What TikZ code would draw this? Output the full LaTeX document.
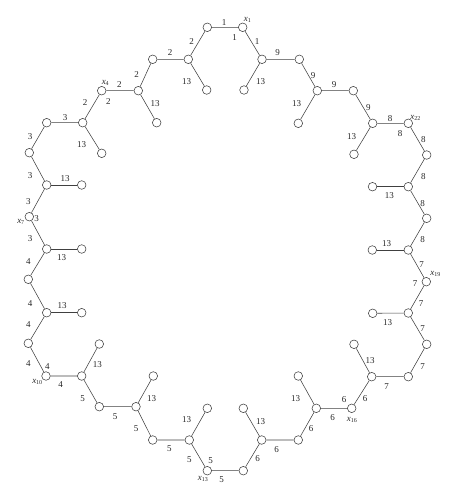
\documentclass[tikz,border=0pt]{standalone}
\usepackage{fontspec}
\setmainfont{Liberation Serif}
\begin{document}
\begin{tikzpicture}[x=1pt,y=-1pt,
  vtx/.style={circle,draw=black!75,fill=white,line width=0.55pt,minimum size=8.6pt,inner sep=0pt},
  edge/.style={draw=black!75,line width=0.55pt},
  lab/.style={font=\fontsize{9}{9}\selectfont,inner sep=0pt,text=black!85},
  xlab/.style={font=\fontsize{9}{9}\selectfont,inner sep=0pt,text=black!85}]
\useasboundingbox (0,0) rectangle (457,500);
% cycle vertices
\node[vtx] (x1) at (242.7,27.3) {};
\node[vtx] (a) at (207.3,27.3) {};
\node[vtx] (b) at (188.3,59.3) {};
\node[vtx] (pb) at (206.7,90) {};
\node[vtx] (c) at (152.7,59.3) {};
\node[vtx] (d) at (138.3,90.7) {};
\node[vtx] (pd) at (156.7,122.7) {};
\node[vtx] (x4) at (101.7,90.7) {};
\node[vtx] (e) at (82.7,122.7) {};
\node[vtx] (pe) at (101.7,153.3) {};
\node[vtx] (f) at (46.7,122.7) {};
\node[vtx] (g) at (29.3,152.7) {};
\node[vtx] (h) at (46.7,185) {};
\node[vtx] (ph) at (81.7,185) {};
\node[vtx] (x7) at (29.3,216.7) {};
\node[vtx] (i) at (46.7,249) {};
\node[vtx] (pi) at (81.7,249) {};
\node[vtx] (j) at (28.3,279.3) {};
\node[vtx] (k) at (46.7,312.7) {};
\node[vtx] (pk) at (81.7,312.7) {};
\node[vtx] (l) at (28.3,343.3) {};
\node[vtx] (x10) at (46,376) {};
\node[vtx] (m) at (81.7,376) {};
\node[vtx] (pm) at (99.3,344) {};
\node[vtx] (n) at (99.3,406.7) {};
\node[vtx] (o) at (136,406.7) {};
\node[vtx] (po) at (153.3,376) {};
\node[vtx] (p) at (152.7,440) {};
\node[vtx] (q) at (189.3,440) {};
\node[vtx] (pq) at (207.3,408.3) {};
\node[vtx] (x13) at (207.3,470.7) {};
\node[vtx] (r) at (243.3,470.7) {};
\node[vtx] (s) at (261.7,440) {};
\node[vtx] (ps) at (243.3,408.3) {};
\node[vtx] (t) at (298.3,440) {};
\node[vtx] (u) at (316.3,408.3) {};
\node[vtx] (pu) at (298.3,376) {};
\node[vtx] (x16) at (351.7,408.3) {};
\node[vtx] (v) at (371.7,376.7) {};
\node[vtx] (pv) at (354,344.3) {};
\node[vtx] (w) at (408.3,376.7) {};
\node[vtx] (y) at (426.7,344.3) {};
\node[vtx] (z) at (408.3,313) {};
\node[vtx] (pz) at (372.7,313.3) {};
\node[vtx] (x19) at (426.3,281.7) {};
\node[vtx] (A) at (408.3,250) {};
\node[vtx] (pA) at (372.3,250) {};
\node[vtx] (B) at (426.7,218.3) {};
\node[vtx] (C) at (408.3,186.7) {};
\node[vtx] (pC) at (372.5,186.7) {};
\node[vtx] (D) at (426.7,155) {};
\node[vtx] (x22) at (408.3,123.3) {};
\node[vtx] (E) at (372.7,123.3) {};
\node[vtx] (pE) at (354,154.3) {};
\node[vtx] (F) at (353.3,90.7) {};
\node[vtx] (G) at (317.3,90.7) {};
\node[vtx] (pG) at (298.3,123.3) {};
\node[vtx] (H) at (299.3,59.3) {};
\node[vtx] (I) at (262,59.3) {};
\node[vtx] (pI) at (244,90) {};
% cycle edges
\draw[edge] (x1)--(a)--(b)--(c)--(d)--(x4)--(e)--(f)--(g)--(h)--(x7)--(i)--(j)--(k)--(l)--(x10)--(m)--(n)--(o)--(p)--(q)--(x13)--(r)--(s)--(t)--(u)--(x16)--(v)--(w)--(y)--(z)--(x19)--(A)--(B)--(C)--(D)--(x22)--(E)--(F)--(G)--(H)--(I)--(x1);
% pendant edges
\draw[edge] (b)--(pb);
\draw[edge] (d)--(pd);
\draw[edge] (e)--(pe);
\draw[edge] (h)--(ph);
\draw[edge] (i)--(pi);
\draw[edge] (k)--(pk);
\draw[edge] (m)--(pm);
\draw[edge] (o)--(po);
\draw[edge] (q)--(pq);
\draw[edge] (s)--(ps);
\draw[edge] (u)--(pu);
\draw[edge] (v)--(pv);
\draw[edge] (z)--(pz);
\draw[edge] (A)--(pA);
\draw[edge] (C)--(pC);
\draw[edge] (E)--(pE);
\draw[edge] (G)--(pG);
\draw[edge] (I)--(pI);
% vertex names
\node[xlab] (nx1) at (247.5,19.5) {\textit{x}\textsubscript{1}};
\node[xlab] (nx4) at (105.5,83) {\textit{x}\textsubscript{4}};
\node[xlab] (nx7) at (21,222) {\textit{x}\textsubscript{7}};
\node[xlab] (nx10) at (37.5,382) {\textit{x}\textsubscript{10}};
\node[xlab] (nx13) at (203,479) {\textit{x}\textsubscript{13}};
\node[xlab] (nx16) at (352,419.5) {\textit{x}\textsubscript{16}};
\node[xlab] (nx19) at (435.5,274) {\textit{x}\textsubscript{19}};
\node[xlab] (nx22) at (415.5,118) {\textit{x}\textsubscript{22}};
% labels
\node[lab] (l1) at (224,23) {1};
\node[lab] (l2) at (234.7,38) {1};
\node[lab] (l3) at (257,42) {1};
\node[lab] (l4) at (191.7,41.7) {2};
\node[lab] (l5) at (170,53) {2};
\node[lab] (l6) at (136.7,75) {2};
\node[lab] (l7) at (119.3,85) {2};
\node[lab] (l8) at (108.3,101.7) {2};
\node[lab] (l9) at (85,103) {2};
\node[lab] (l10) at (65,118) {3};
\node[lab] (l11) at (30,136.7) {3};
\node[lab] (l12) at (30,176) {3};
\node[lab] (l13) at (28.3,201.7) {3};
\node[lab] (l14) at (36.7,218.3) {3};
\node[lab] (l15) at (30,238.3) {3};
\node[lab] (l16) at (28.3,261.7) {4};
\node[lab] (l17) at (30,303.3) {4};
\node[lab] (l18) at (28.3,325) {4};
\node[lab] (l19) at (28.3,363.3) {4};
\node[lab] (l20) at (47.3,366.7) {4};
\node[lab] (l21) at (60.7,385) {4};
\node[lab] (l22) at (82.7,398.3) {5};
\node[lab] (l23) at (115,416.7) {5};
\node[lab] (l24) at (136,428.3) {5};
\node[lab] (l25) at (169.3,448.3) {5};
\node[lab] (l26) at (189.3,460) {5};
\node[lab] (l27) at (210.7,461) {5};
\node[lab] (l28) at (221.7,480) {5};
\node[lab] (l29) at (257.7,458.3) {6};
\node[lab] (l30) at (276.7,449.3) {6};
\node[lab] (l31) at (311,428.3) {6};
\node[lab] (l32) at (332.7,417.3) {6};
\node[lab] (l33) at (344,400) {6};
\node[lab] (l34) at (365,399) {6};
\node[lab] (l35) at (386.7,386.7) {7};
\node[lab] (l36) at (422.7,366.7) {7};
\node[lab] (l37) at (422.7,328.3) {7};
\node[lab] (l38) at (421,303.3) {7};
\node[lab] (l39) at (415,284) {7};
\node[lab] (l40) at (421.7,265) {7};
\node[lab] (l41) at (422.7,240) {8};
\node[lab] (l42) at (422.7,203.3) {8};
\node[lab] (l43) at (423.3,176.7) {8};
\node[lab] (l44) at (423.3,140) {8};
\node[lab] (l45) at (400,134) {8};
\node[lab] (l46) at (390,118.3) {8};
\node[lab] (l47) at (368.3,107.3) {9};
\node[lab] (l48) at (334,85) {9};
\node[lab] (l49) at (313,76) {9};
\node[lab] (l50) at (277.7,53) {9};
% pendant labels
\node[lab] (t1) at (186.7,81.7) {13};
\node[lab] (t2) at (155,104) {13};
\node[lab] (t3) at (81.7,145) {13};
\node[lab] (t4) at (65,179) {13};
\node[lab] (t5) at (61.7,258) {13};
\node[lab] (t6) at (62,306) {13};
\node[lab] (t7) at (97.3,365) {13};
\node[lab] (t8) at (151.7,398.3) {13};
\node[lab] (t9) at (186.7,420) {13};
\node[lab] (t10) at (260.7,421.7) {13};
\node[lab] (t11) at (295.7,398.3) {13};
\node[lab] (t12) at (370,361) {13};
\node[lab] (t13) at (387.7,322.7) {13};
\node[lab] (t14) at (386.7,243.3) {13};
\node[lab] (t15) at (389.3,196) {13};
\node[lab] (t16) at (351.7,136.7) {13};
\node[lab] (t17) at (296.7,103.3) {13};
\node[lab] (t18) at (260.7,81.7) {13};
\end{tikzpicture}
\end{document}
